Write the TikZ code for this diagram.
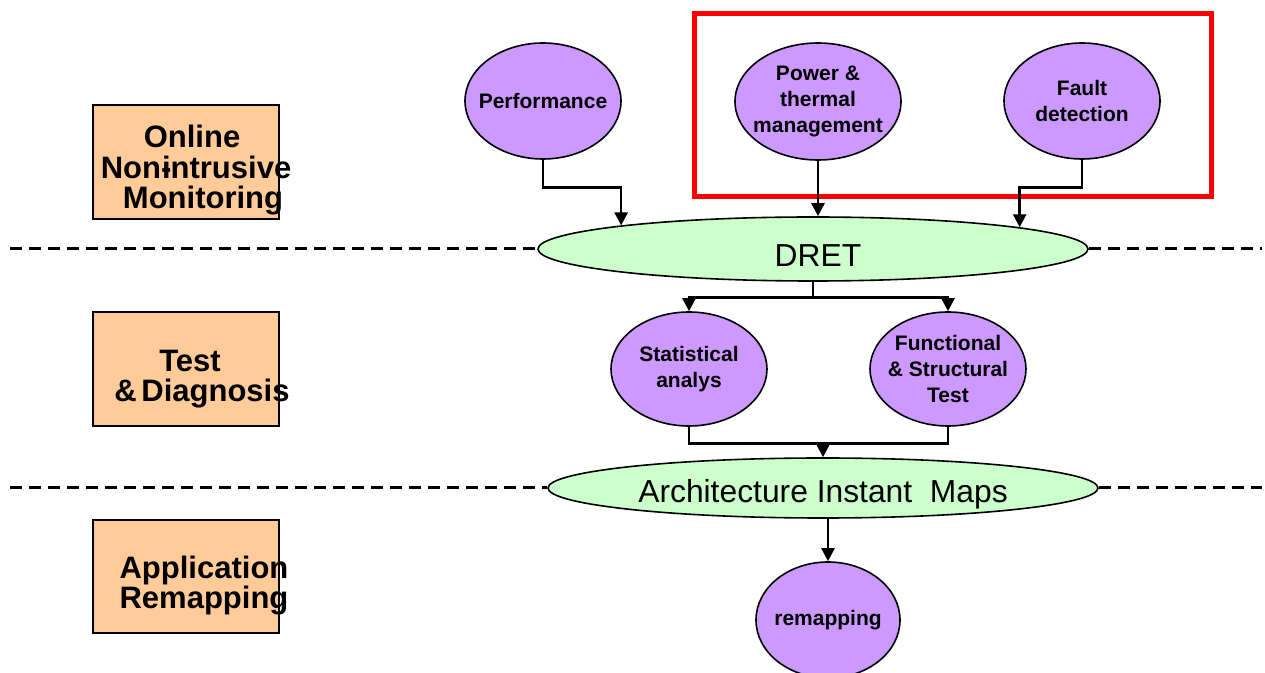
\documentclass[tikz,border=0pt]{standalone}
\usepackage{fontspec}
\setmainfont{Liberation Sans}
\usetikzlibrary{arrows.meta,shapes.geometric}
\definecolor{lilac}{RGB}{204,153,255}
\definecolor{mint}{RGB}{204,255,204}
\definecolor{peach}{RGB}{255,204,153}
\definecolor{framered}{RGB}{255,0,0}

\begin{document}
\begin{tikzpicture}[x=0.5pt,y=-0.5pt,
  task/.style={ellipse, draw=black, line width=0.8pt, fill=lilac,
    inner xsep=-8pt, inner ysep=-4pt, align=center,
    font=\fontsize{10.5}{13}\selectfont\bfseries},
  stage/.style={ellipse, draw=black, line width=0.8pt, fill=mint,
    inner sep=0pt, font=\fontsize{15.9}{18}\selectfont},
  layerbox/.style={draw=black, line width=0.75pt, fill=peach, inner sep=0pt,
    minimum width=93pt},
  layertext/.style={anchor=base, inner sep=0pt,
    font=\fontsize{15.5}{15.5}\selectfont\bfseries},
  wire/.style={line width=1.3pt},
  arr/.style={line width=1.3pt, -{Triangle[width=6.5pt,length=6.5pt]}},
  divider/.style={line width=1.5pt, dash pattern=on 6pt off 3.5pt},
  redframe/.style={draw=framered, line width=2.75pt},
]
\useasboundingbox (0,0) rectangle (1265,673);

% layer labels on the left
\node[layerbox, minimum height=57pt] (box1) at (186,162) {};
\node[layerbox, minimum height=57pt] (box2) at (186,369) {};
\node[layerbox, minimum height=56.5pt] (box3) at (186,576.5) {};

\node[layertext] (on1) at (192,148) {Online};
\node[layertext] (on2) at (196,179) {Non-\kern-0.3em intrusive};
\node[layertext] (on3) at (203,209) {Monitoring};
\node[layertext] (td1) at (190,372) {Test};
\node[layertext] (td2) at (202,402) {\&\kern0.15em Diagnosis};
\node[layertext] (ar1) at (204,579) {Application};
\node[layertext] (ar2) at (204,609) {Remapping};

% frame around power and fault monitors
\draw[redframe] (694.5,13.5) rectangle (1211.5,196.5);

% monitors
\node[task, minimum width=78pt, minimum height=58pt] (perf) at (543,101) {Performance};
\node[task, minimum width=83pt, minimum height=58.5pt] (power) at (818,101.5) {Power \&\\thermal\\management};
\node[task, minimum width=78pt, minimum height=58pt] (fault) at (1082,101) {Fault\\detection};

% central stages
\node[stage, minimum width=275pt, minimum height=32pt, text height=17.4pt, text depth=0pt] (dret) at (813,249) {\hspace*{5pt}DRET};
\node[stage, minimum width=275pt, minimum height=30pt, text height=14.9pt, text depth=0pt] (arch) at (823,488) {Architecture Instant\ \ Maps};

% test and diagnosis
\node[task, minimum width=78pt, minimum height=57pt] (stat) at (689,369) {Statistical\\analys};
\node[task, minimum width=78pt, minimum height=57pt] (func) at (948,369) {Functional\\\& Structural\\Test};

% remapping
\node[task, minimum width=72pt, minimum height=58pt] (remap) at (828,620) {remapping};

% layer dividers
\draw[divider] (10,249) -- (dret.west);
\draw[divider] (dret.east) -- (1262,249);
\draw[divider] (10,488) -- (arch.west);
\draw[divider] (arch.east) -- (1262,488);

% connectors
\draw[arr] (perf.south) -- ++(0,28) -| (dret.173.5);
\draw[arr] (power.south) -- (power.south |- dret.north);
\draw[arr] (fault.south) -- ++(0,28) -| (dret.6.7);

\draw[wire] (dret.south) -- ++(0,16) coordinate (split);
\draw[arr] (split) -| (stat.north);
\draw[arr] (split) -| (func.north);

\draw[wire] (stat.south) -- ++(0,17) -| (func.south);
\coordinate (merge) at (arch.north |- 0,443);
\draw[arr] (merge) -- (arch.north);

\draw[arr] (remap.north |- arch.south) -- (remap.north);
\end{tikzpicture}
\end{document}
